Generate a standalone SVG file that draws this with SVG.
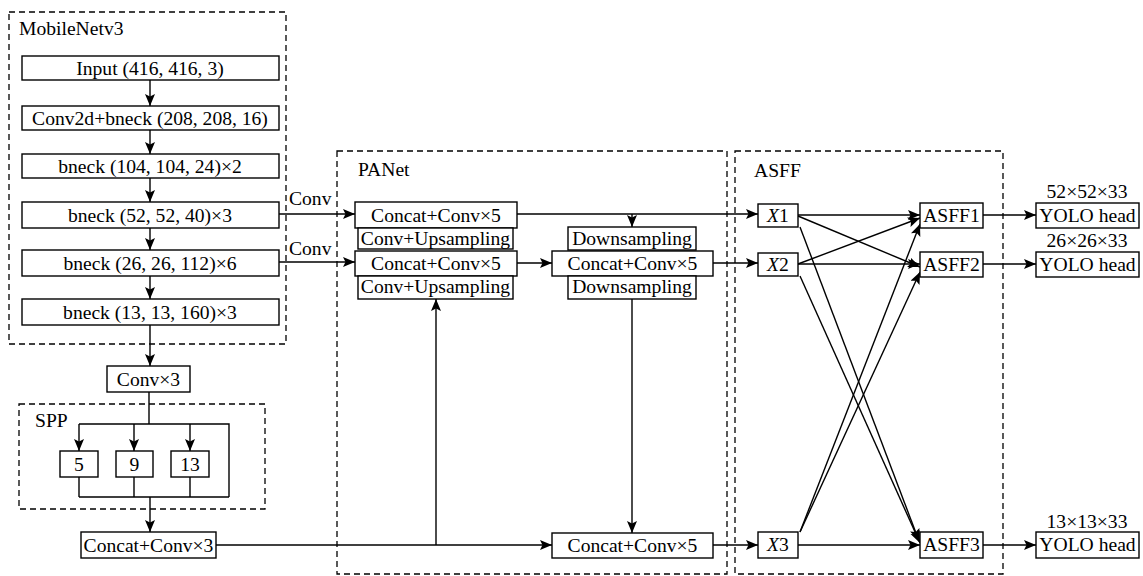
<svg xmlns="http://www.w3.org/2000/svg" width="1143" height="576" viewBox="0 0 1143 576">
<style>
text{font-family:"Liberation Serif","Times New Roman",serif;font-size:19.6px;fill:#000}
.c{text-anchor:middle}
.box{fill:#fff;stroke:#000;stroke-width:1.4}
.dash{fill:none;stroke:#000;stroke-width:1.3;stroke-dasharray:6,4}
.ln{fill:none;stroke:#000;stroke-width:1.4}
.ar{fill:none;stroke:#000;stroke-width:1.4;marker-end:url(#ah)}
</style>
<defs>
<marker id="ah" markerUnits="userSpaceOnUse" markerWidth="13" markerHeight="11" refX="12" refY="5" orient="auto">
<path d="M0,0 L12,5 L0,10 L2.5,5 z" fill="#000"/>
</marker>
</defs>
<rect width="1143" height="576" fill="#fff"/>
<g id="groups">
<rect class="dash" x="9" y="12" width="277" height="332"/>
<text x="19" y="35">MobileNetv3</text>
<rect class="dash" x="19" y="404" width="246" height="105"/>
<text x="35" y="427">SPP</text>
<rect class="dash" x="337" y="151" width="390" height="423"/>
<text x="358" y="176">PANet</text>
<rect class="dash" x="735" y="151" width="268" height="423"/>
<text x="754" y="177">ASFF</text>
</g>
<g id="connectors">
<path class="ar" d="M150,80 V106"/>
<path class="ar" d="M150,130 V154"/>
<path class="ar" d="M150,178 V202"/>
<path class="ar" d="M150,228 V250"/>
<path class="ar" d="M150,276 V299"/>
<path class="ar" d="M150,325 V366"/>
<path class="ln" d="M149,392 V424 M79,424 H229 V497 M79,477 V497 M134,477 V497 M190,477 V497 M79,497 H229"/>
<path class="ar" d="M79,424 V451"/>
<path class="ar" d="M134,424 V451"/>
<path class="ar" d="M190,424 V451"/>
<path class="ar" d="M150,497 V532"/>
<path class="ar" d="M216,545 H552"/>
<path class="ar" d="M436,545 V299"/>
<path class="ar" d="M279,214 H355"/>
<text x="289" y="205">Conv</text>
<path class="ar" d="M279,262 H355"/>
<text x="289" y="255">Conv</text>
<path class="ar" d="M517,214 H758"/>
<path class="ar" d="M632,214 V227"/>
<path class="ar" d="M517,263 H552"/>
<path class="ar" d="M713,263 H758"/>
<path class="ar" d="M632,299 V533"/>
<path class="ar" d="M713,545 H758"/>
<path class="ar" d="M798,215 H920"/>
<path class="ar" d="M798,216 L920,267"/>
<path class="ar" d="M800,227 L919,541"/>
<path class="ar" d="M798,264 L920,218"/>
<path class="ar" d="M798,264 H920"/>
<path class="ar" d="M800,276 L920,543"/>
<path class="ar" d="M800,532 L920,224"/>
<path class="ar" d="M800,532 L920,272"/>
<path class="ar" d="M798,545 H920"/>
<path class="ar" d="M983,215 H1036"/>
<path class="ar" d="M983,264 H1036"/>
<path class="ar" d="M983,545 H1036"/>
</g>
<g id="input"><rect class="box" x="22" y="56" width="257" height="24"/><text class="c" x="150" y="75">Input (416, 416, 3)</text></g>
<g id="conv2d"><rect class="box" x="22" y="106" width="257" height="24"/><text class="c" x="150" y="125">Conv2d+bneck (208, 208, 16)</text></g>
<g id="bneck104"><rect class="box" x="22" y="154" width="257" height="24"/><text class="c" x="150" y="173">bneck (104, 104, 24)×2</text></g>
<g id="bneck52"><rect class="box" x="22" y="202" width="257" height="26"/><text class="c" x="150" y="222">bneck (52, 52, 40)×3</text></g>
<g id="bneck26"><rect class="box" x="22" y="250" width="257" height="26"/><text class="c" x="150" y="270">bneck (26, 26, 112)×6</text></g>
<g id="bneck13"><rect class="box" x="22" y="299" width="257" height="26"/><text class="c" x="150" y="319">bneck (13, 13, 160)×3</text></g>
<g id="convx3"><rect class="box" x="107" y="366" width="83" height="26"/><text class="c" x="148.5" y="386">Conv×3</text></g>
<g id="pool5"><rect class="box" x="60" y="451" width="38" height="26"/><text class="c" x="79" y="471">5</text></g>
<g id="pool9"><rect class="box" x="116" y="451" width="37" height="26"/><text class="c" x="134.5" y="471">9</text></g>
<g id="pool13"><rect class="box" x="171" y="451" width="38" height="26"/><text class="c" x="190" y="471">13</text></g>
<g id="concat3"><rect class="box" x="81" y="532" width="135" height="26"/><text class="c" x="148.5" y="552">Concat+Conv×3</text></g>
<g id="pan-c1"><rect class="box" x="355" y="202" width="162" height="26"/><text class="c" x="436" y="222">Concat+Conv×5</text></g>
<g id="pan-u1"><rect class="box" x="358" y="228" width="155" height="21"/><text class="c" x="435.5" y="245">Conv+Upsampling</text></g>
<g id="pan-c2"><rect class="box" x="355" y="251" width="162" height="25"/><text class="c" x="436" y="270">Concat+Conv×5</text></g>
<g id="pan-u2"><rect class="box" x="358" y="276" width="155" height="23"/><text class="c" x="435.5" y="293">Conv+Upsampling</text></g>
<g id="pan-d1"><rect class="box" x="568" y="227" width="128" height="23"/><text class="c" x="632" y="245">Downsampling</text></g>
<g id="pan-m"><rect class="box" x="552" y="251" width="161" height="25"/><text class="c" x="632.5" y="270">Concat+Conv×5</text></g>
<g id="pan-d2"><rect class="box" x="568" y="276" width="128" height="23"/><text class="c" x="632" y="293">Downsampling</text></g>
<g id="pan-b"><rect class="box" x="552" y="533" width="161" height="25"/><text class="c" x="632.5" y="552">Concat+Conv×5</text></g>
<g id="x1"><rect class="box" x="758" y="204" width="40" height="23"/><text class="c" x="778" y="222"><tspan font-style="italic">X</tspan>1</text></g>
<g id="x2"><rect class="box" x="758" y="253" width="40" height="23"/><text class="c" x="778" y="271"><tspan font-style="italic">X</tspan>2</text></g>
<g id="x3"><rect class="box" x="758" y="532" width="40" height="26"/><text class="c" x="778" y="551"><tspan font-style="italic">X</tspan>3</text></g>
<g id="asff1"><rect class="box" x="920" y="203" width="63" height="25"/><text class="c" x="951.5" y="222">ASFF1</text></g>
<g id="asff2"><rect class="box" x="920" y="252" width="63" height="25"/><text class="c" x="951.5" y="271">ASFF2</text></g>
<g id="asff3"><rect class="box" x="920" y="532" width="63" height="26"/><text class="c" x="951.5" y="551">ASFF3</text></g>
<g id="yolo1"><text class="c" x="1087" y="198">52×52×33</text><rect class="box" x="1036" y="203" width="103" height="25"/><text class="c" x="1087.5" y="222">YOLO head</text></g>
<g id="yolo2"><text class="c" x="1087" y="247">26×26×33</text><rect class="box" x="1036" y="252" width="103" height="25"/><text class="c" x="1087.5" y="271">YOLO head</text></g>
<g id="yolo3"><text class="c" x="1087" y="528">13×13×33</text><rect class="box" x="1036" y="532" width="103" height="26"/><text class="c" x="1087.5" y="551">YOLO head</text></g>
</svg>
